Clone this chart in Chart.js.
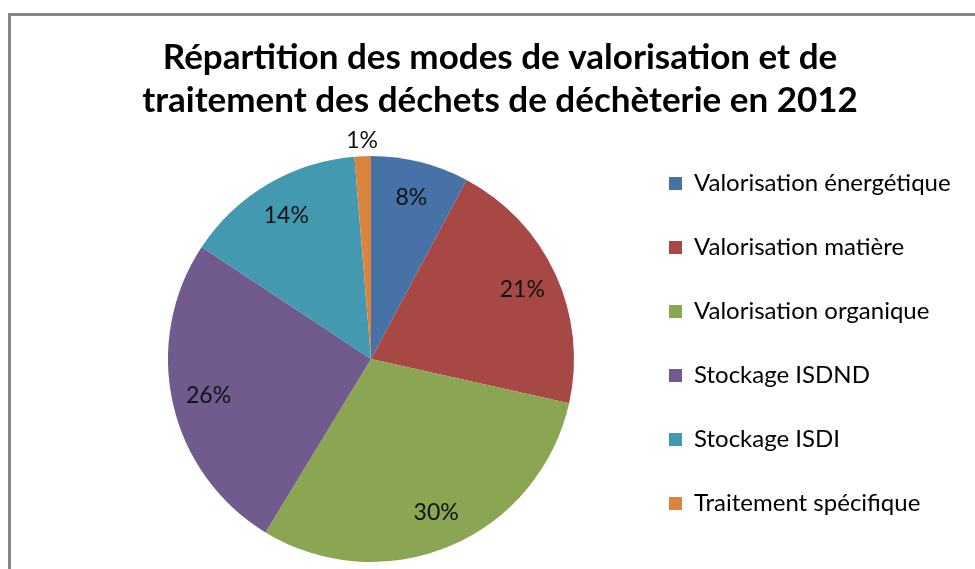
<!DOCTYPE html>
<html>
<head>
<meta charset="utf-8">
<script src="https://cdn.jsdelivr.net/npm/chart.js@4.4.1/dist/chart.umd.min.js"></script>
<style>
  html, body { margin: 0; padding: 0; background: #fff; overflow: hidden; }
  #frame {
    position: absolute; left: 8px; top: 13px;
    width: 978px; height: 600px;
    border: 3px solid #868686;
  }
  #pie { display: block; }
</style>
</head>
<body>
<div id="frame"><canvas id="pie" width="978" height="600"></canvas></div>
<script>
// chart data
const categories = [
    'Valorisation énergétique',
    'Valorisation matière',
    'Valorisation organique',
    'Stockage ISDND',
    'Stockage ISDI',
    'Traitement spécifique'
];
const shares = [7.8, 20.7, 30.2, 25.6, 14.4, 1.3];
const sliceColors = ['#4672A8', '#A84845', '#8AA652', '#715A8E', '#4299B0', '#DB843D'];
const titleLines = [
    'Répartition des modes de valorisation et de',
    'traitement des déchets de déchèterie en 2012'
];

const legendFont = '24px Lato';
const labelFont = '23px Lato';

// percentage labels on the slices
const sliceLabels = {
    id: 'sliceLabels',
    afterDatasetsDraw(chart) {
        const ctx = chart.ctx;
        const meta = chart.getDatasetMeta(0);
        const values = chart.data.datasets[0].data;
        const total = values.reduce((a, b) => a + b, 0);
        ctx.save();
        ctx.font = labelFont;
        ctx.fillStyle = '#111';
        ctx.textAlign = 'center';
        ctx.textBaseline = 'middle';
        meta.data.forEach((arc, i) => {
            const p = arc.getProps(['x', 'y', 'startAngle', 'endAngle', 'outerRadius'], true);
            const mid = (p.startAngle + p.endAngle) / 2;
            const pct = values[i] / total * 100;
            const r = pct < 5 ? p.outerRadius + 16 : p.outerRadius * 0.82;
            ctx.fillText(Math.round(pct) + '%', p.x + Math.cos(mid) * r, p.y + Math.sin(mid) * r);
        });
        ctx.restore();
    }
};

// keep the title centred on the whole canvas, not between the paddings
const centreTitle = {
    id: 'centreTitle',
    afterLayout(chart) {
        const t = chart.titleBlock;
        if (!t) return;
        t.left = 0;
        t.right = chart.width;
        t.width = chart.width;
    }
};

// work out the right padding so the legend sits where it should
const measureCtx = document.createElement('canvas').getContext('2d');
measureCtx.font = legendFont;
const longest = Math.max(...categories.map(c => measureCtx.measureText(c).width));
const rightPad = Math.max(0, 978 - 693 - longest);

new Chart(document.getElementById('pie'), {
    type: 'pie',
    data: {
        labels: categories,
        datasets: [{
            data: shares,
            backgroundColor: sliceColors,
            borderWidth: 0
        }]
    },
    options: {
        responsive: false,
        animation: false,
        radius: 203,
        layout: {
            padding: { left: 102, right: rightPad, top: 0, bottom: 29.5 }
        },
        plugins: {
            title: {
                display: true,
                text: titleLines,
                color: '#000',
                font: { family: 'Lato', size: 35, weight: 'bold', lineHeight: '43px' },
                padding: { top: 20.5, bottom: 9 }
            },
            legend: {
                position: 'right',
                align: 'start',
                fullSize: false,
                labels: {
                    boxWidth: 13,
                    boxHeight: 13,
                    padding: 40,
                    color: '#000',
                    font: { family: 'Lato', size: 24 }
                }
            },
            tooltip: { enabled: false }
        }
    },
    plugins: [centreTitle, sliceLabels]
});
</script>
</body>
</html>
